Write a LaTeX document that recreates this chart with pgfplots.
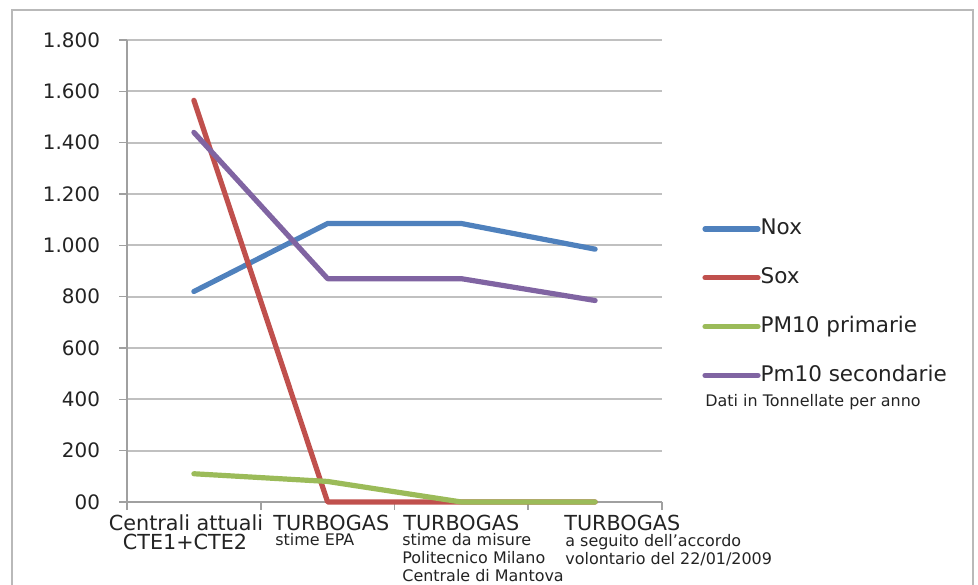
\documentclass[border=0pt]{standalone}
\usepackage{pgfplots}
\pgfplotsset{compat=1.18}
\usepackage{fontspec}
\setmainfont{DejaVu Sans}
\definecolor{noxc}{HTML}{4F81BD}
\definecolor{soxc}{HTML}{C0504D}
\definecolor{pmc}{HTML}{9BBB59}
\definecolor{pmsc}{HTML}{8064A2}
\definecolor{gridc}{RGB}{192,192,192}
\definecolor{axc}{RGB}{160,160,160}
\definecolor{txt}{RGB}{35,35,35}
\begin{document}
\begin{tikzpicture}[x=0.5bp,y=0.5bp]
\useasboundingbox (0,0) rectangle (978,585);
% outer frame
\draw[color=gray!55,line width=0.8bp] (12,-20) -- (12,575) -- (973,575) -- (973,-20);
\begin{axis}[
    at={(63.5bp,41.5bp)}, anchor=south west,
    scale only axis, width=267.5bp, height=231bp,
    xmin=0, xmax=4, ymin=0, ymax=1800,
    xtick={0,1,2,3,4}, xticklabels={},
    ytick={0,200,...,1800},
    yticklabels={00,200,400,600,800,1.000,1.200,1.400,1.600,1.800},
    yticklabel style={font=\fontsize{10}{12}\selectfont, text=txt, xshift=-6bp},
    ymajorgrids, grid style={gridc,line width=1bp},
    axis x line*=bottom, axis y line*=left,
    axis line style={axc,line width=0.8bp,-},
    tick align=outside, major tick length=4bp,
    tick style={axc,line width=0.8bp},
    clip=false,
    every axis plot/.append style={line width=2.6bp, line cap=round, line join=round},
    legend style={draw=none, fill=none, at={(1.0748,0.613)}, anchor=north west,
      inner sep=0pt, row sep=14.6bp,
      font=\fontsize{10.8}{12}\selectfont, text=txt,
      nodes={inner sep=0pt, text height=7.8bp, text depth=2bp}},
    legend cell align=left,
    legend image code/.code={\draw[#1] (0bp,0bp) -- (26.5bp,0bp);},
    /tikz/every even column/.append style={column sep=2.5bp},
]
\addplot[noxc] coordinates {(0.5,820) (1.5,1085) (2.5,1085) (3.5,985)};
\addlegendentry{Nox}
\addplot[soxc] coordinates {(0.5,1565) (1.5,0) (2.5,0) (3.5,0)};
\addlegendentry{Sox}
\addplot[pmc] coordinates {(0.5,110) (1.5,80) (2.5,0) (3.5,0)};
\addlegendentry{PM10 primarie}
\addplot[pmsc] coordinates {(0.5,1440) (1.5,870) (2.5,870) (3.5,785)};
\addlegendentry{Pm10 secondarie}
\end{axis}
% category labels
\begin{scope}[every node/.style={inner sep=0pt, text=txt}]
\node[anchor=base, font=\fontsize{10.4}{12}\selectfont] at (186,54) {Centrali attuali};
\node[anchor=base, font=\fontsize{10.4}{12}\selectfont] at (185,35) {CTE1+CTE2};
\node[anchor=base west, font=\fontsize{10.4}{12}\selectfont] at (273,54) {TURBOGAS};
\node[anchor=base west, font=\fontsize{8}{10}\selectfont] at (275,39) {stime EPA};
\node[anchor=base west, font=\fontsize{10.4}{12}\selectfont] at (403,54) {TURBOGAS};
\node[anchor=base west, font=\fontsize{8}{10}\selectfont] at (402,39) {stime da misure};
\node[anchor=base west, font=\fontsize{8}{10}\selectfont] at (402,21) {Politecnico Milano};
\node[anchor=base west, font=\fontsize{8}{10}\selectfont] at (402,3) {Centrale di Mantova};
\node[anchor=base west, font=\fontsize{10.4}{12}\selectfont] at (564,54) {TURBOGAS};
\node[anchor=base west, font=\fontsize{8}{10}\selectfont] at (565,38) {a seguito dell’accordo};
\node[anchor=base west, font=\fontsize{8}{10}\selectfont] at (565,20) {volontario del 22/01/2009};
\node[anchor=base west, font=\fontsize{8}{10}\selectfont] at (705,178) {Dati in Tonnellate per anno};
\end{scope}
\end{tikzpicture}
\end{document}
